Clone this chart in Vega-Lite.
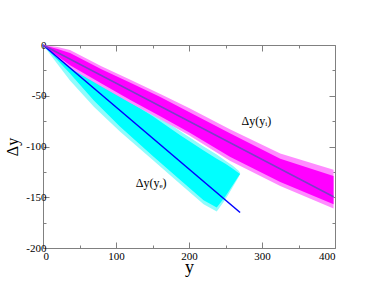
{
  "$schema": "https://vega.github.io/schema/vega-lite/v6.json",
  "width": 292,
  "height": 203,
  "autosize": "none",
  "padding": {"left": 43, "top": 45, "right": 39, "bottom": 44},
  "background": "white",
  "config": {
    "view": {"stroke": "#808080", "strokeWidth": 1},
    "axis": {
      "domain": false,
      "grid": false,
      "tickColor": "#808080",
      "tickWidth": 1,
      "labelFont": "Liberation Serif",
      "labelFontSize": 11,
      "labelColor": "#000000",
      "titleFont": "Liberation Serif",
      "titleFontWeight": "normal",
      "titleColor": "#000000"
    }
  },
  "datasets": {
    "cyanband": [
      {"x": 0, "core_hi": 0, "core_lo": 0, "fr_hi": 0, "fr_lo": 0},
      {"x": 20, "core_hi": -9, "core_lo": -15, "fr_hi": -7, "fr_lo": -19},
      {"x": 37, "core_hi": -16, "core_lo": -28, "fr_hi": -13, "fr_lo": -35},
      {"x": 70, "core_hi": -32, "core_lo": -55, "fr_hi": -29, "fr_lo": -61},
      {"x": 105, "core_hi": -50, "core_lo": -80, "fr_hi": -46, "fr_lo": -85},
      {"x": 150, "core_hi": -70, "core_lo": -109, "fr_hi": -66, "fr_lo": -113},
      {"x": 188, "core_hi": -89, "core_lo": -133, "fr_hi": -85, "fr_lo": -137},
      {"x": 220, "core_hi": -104, "core_lo": -153, "fr_hi": -100, "fr_lo": -157},
      {"x": 238, "core_hi": -112, "core_lo": -160, "fr_hi": -108, "fr_lo": -164},
      {"x": 250, "core_hi": -117, "core_lo": -149, "fr_hi": -114, "fr_lo": -152},
      {"x": 260, "core_hi": -122, "core_lo": -138, "fr_hi": -119, "fr_lo": -140},
      {"x": 268, "core_hi": -126, "core_lo": -129, "fr_hi": -124, "fr_lo": -130},
      {"x": 270, "core_hi": -127, "core_lo": -127, "fr_hi": -126, "fr_lo": -127}
    ],
    "magband": [
      {"x": 0, "core_hi": 0, "core_lo": 0, "fr_hi": 0, "fr_lo": 0},
      {"x": 20, "core_hi": -4, "core_lo": -11, "fr_hi": -2, "fr_lo": -13},
      {"x": 37, "core_hi": -8, "core_lo": -20, "fr_hi": -5, "fr_lo": -23},
      {"x": 80, "core_hi": -24, "core_lo": -38, "fr_hi": -21, "fr_lo": -41},
      {"x": 119, "core_hi": -37, "core_lo": -54, "fr_hi": -34, "fr_lo": -57},
      {"x": 160, "core_hi": -51, "core_lo": -70, "fr_hi": -48, "fr_lo": -73},
      {"x": 200, "core_hi": -66, "core_lo": -86, "fr_hi": -62, "fr_lo": -89},
      {"x": 256, "core_hi": -87, "core_lo": -110, "fr_hi": -83, "fr_lo": -114},
      {"x": 325, "core_hi": -112, "core_lo": -135, "fr_hi": -107, "fr_lo": -139},
      {"x": 398, "core_hi": -129, "core_lo": -157, "fr_hi": -123, "fr_lo": -161}
    ],
    "fits": [
      {"series": "e", "x": 0, "y": 0},
      {"series": "e", "x": 270, "y": -165},
      {"series": "i", "x": 0, "y": 0},
      {"series": "i", "x": 398, "y": -149.5}
    ],
    "notes": [
      {"label": "Δy(yᵢ)", "x": 272, "y": -75},
      {"label": "Δy(yₑ)", "x": 127, "y": -136}
    ]
  },
  "layer": [
    {
      "data": {"name": "cyanband"},
      "mark": {"type": "area", "color": "#8ffcfc", "opacity": 1},
      "encoding": {
        "x": {
          "field": "x", "type": "quantitative",
          "scale": {"domain": [0, 400], "nice": false},
          "axis": {
            "orient": "bottom",
            "values": [0, 50, 100, 150, 200, 250, 300, 350, 400],
            "tickSize": {"condition": {"test": "datum.value % 100 === 0", "value": -6}, "value": -3},
            "labelExpr": "datum.value % 100 === 0 ? datum.label : ''",
            "labelPadding": 8,
            "title": "y",
            "titleFontSize": 18,
            "titlePadding": -3
          }
        },
        "y": {
          "field": "fr_hi", "type": "quantitative",
          "scale": {"domain": [-200, 0], "nice": false},
          "axis": {
            "orient": "left",
            "values": [-200, -175, -150, -125, -100, -75, -50, -25, 0],
            "tickSize": {"condition": {"test": "datum.value % 50 === 0", "value": -6}, "value": -3},
            "labelExpr": "datum.value % 50 === 0 ? replace(datum.label, '−', '-') : ''",
            "labelPadding": 3,
            "title": "Δy",
            "titleFontSize": 16,
            "titlePadding": 5
          }
        },
        "y2": {"field": "fr_lo"}
      }
    },
    {
      "data": {"name": "cyanband"},
      "mark": {"type": "area", "color": "#00ffff"},
      "encoding": {
        "x": {"field": "x", "type": "quantitative", "axis": null},
        "y": {"field": "core_hi", "type": "quantitative", "axis": null},
        "y2": {"field": "core_lo"}
      }
    },
    {
      "data": {"name": "magband"},
      "mark": {"type": "area", "color": "#ff8cff"},
      "encoding": {
        "x": {
          "field": "x", "type": "quantitative",
          "axis": {
            "orient": "top",
            "values": [0, 50, 100, 150, 200, 250, 300, 350, 400],
            "tickSize": {"condition": {"test": "datum.value % 100 === 0", "value": -6}, "value": -3},
            "labels": false,
            "title": null
          }
        },
        "y": {
          "field": "fr_hi", "type": "quantitative",
          "axis": {
            "orient": "right",
            "values": [-200, -175, -150, -125, -100, -75, -50, -25, 0],
            "tickSize": {"condition": {"test": "datum.value % 50 === 0", "value": -6}, "value": -3},
            "labels": false,
            "title": null
          }
        },
        "y2": {"field": "fr_lo"}
      }
    },
    {
      "data": {"name": "magband"},
      "mark": {"type": "area", "color": "#ff00ff"},
      "encoding": {
        "x": {"field": "x", "type": "quantitative", "axis": null},
        "y": {"field": "core_hi", "type": "quantitative", "axis": null},
        "y2": {"field": "core_lo"}
      }
    },
    {
      "data": {"name": "fits"},
      "mark": {"type": "line", "strokeWidth": 1.5},
      "encoding": {
        "x": {"field": "x", "type": "quantitative", "axis": null},
        "y": {"field": "y", "type": "quantitative", "axis": null},
        "detail": {"field": "series"},
        "color": {
          "field": "series", "type": "nominal",
          "scale": {"domain": ["e", "i"], "range": ["#0000ff", "#7d3cc8"]},
          "legend": null
        }
      }
    },
    {
      "data": {"name": "notes"},
      "mark": {"type": "text", "align": "left", "baseline": "middle", "font": "Liberation Serif", "fontSize": 12, "color": "#000000"},
      "encoding": {
        "x": {"field": "x", "type": "quantitative", "axis": null},
        "y": {"field": "y", "type": "quantitative", "axis": null},
        "text": {"field": "label"}
      }
    }
  ],
  "resolve": {"axis": {"x": "independent", "y": "independent"}}
}
